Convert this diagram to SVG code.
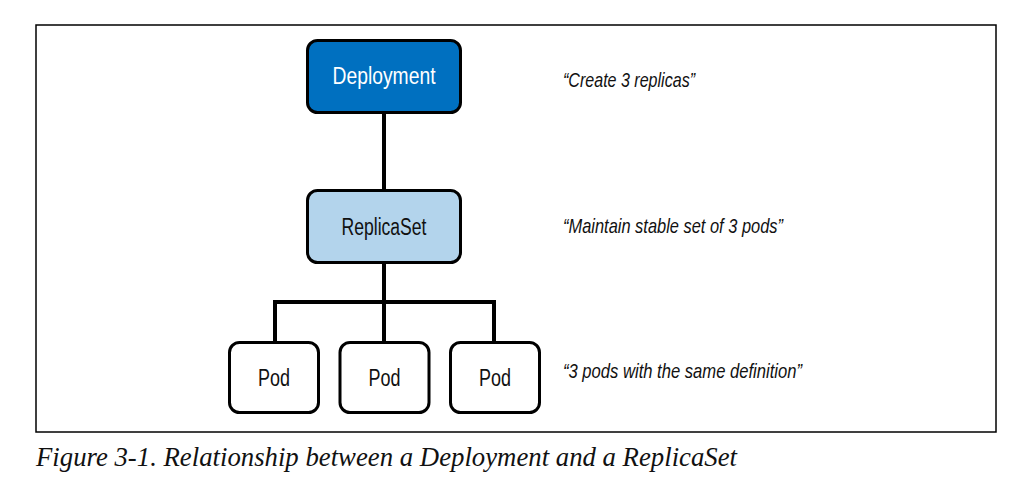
<svg xmlns="http://www.w3.org/2000/svg" width="1009" height="489" viewBox="0 0 1009 489">
<style>
.box{stroke:#000;stroke-width:3}
.lbl{font-family:"Liberation Sans",Arial,sans-serif;font-size:23px;text-anchor:middle}
.note{font-family:"Liberation Sans",Arial,sans-serif;font-size:21px;font-style:italic;fill:#111}
.conn{stroke:#000;stroke-width:4;fill:none}
</style>
<rect x="0" y="0" width="1009" height="489" fill="#fff"/>
<rect x="36" y="25" width="960" height="407" fill="none" stroke="#000" stroke-width="1.5"/>
<g id="connectors">
<line class="conn" x1="384" y1="113" x2="384" y2="190"/>
<line class="conn" x1="384" y1="263" x2="384" y2="342"/>
<polyline class="conn" points="275,342 275,302 494,302 494,342"/>
</g>
<g id="deployment">
<rect class="box" x="307.5" y="40.5" width="153" height="72" rx="10" fill="#0070c0"/>
<text class="lbl" x="384" y="84" fill="#fff" textLength="103" lengthAdjust="spacingAndGlyphs">Deployment</text>
</g>
<g id="replicaset">
<rect class="box" x="307.5" y="190.5" width="153" height="72" rx="10" fill="#b3d4ec"/>
<text class="lbl" x="384" y="235" fill="#111" textLength="85" lengthAdjust="spacingAndGlyphs">ReplicaSet</text>
</g>
<g id="pod1">
<rect class="box" x="229.5" y="342.5" width="89" height="70" rx="10" fill="#fff"/>
<text class="lbl" x="274" y="386" fill="#111" textLength="32" lengthAdjust="spacingAndGlyphs">Pod</text>
</g>
<g id="pod2">
<rect class="box" x="340" y="342.5" width="89" height="70" rx="10" fill="#fff"/>
<text class="lbl" x="384.5" y="386" fill="#111" textLength="32" lengthAdjust="spacingAndGlyphs">Pod</text>
</g>
<g id="pod3">
<rect class="box" x="450.5" y="342.5" width="89" height="70" rx="10" fill="#fff"/>
<text class="lbl" x="495" y="386" fill="#111" textLength="32" lengthAdjust="spacingAndGlyphs">Pod</text>
</g>
<g id="notes">
<text class="note" x="563" y="87" textLength="132" lengthAdjust="spacingAndGlyphs">“Create 3 replicas”</text>
<text class="note" x="563" y="233" textLength="220" lengthAdjust="spacingAndGlyphs">“Maintain stable set of 3 pods”</text>
<text class="note" x="563" y="378" textLength="239" lengthAdjust="spacingAndGlyphs">“3 pods with the same definition”</text>
</g>
<text x="36" y="466" font-family="'Liberation Serif','Times New Roman',serif" font-size="27" font-style="italic" fill="#111" textLength="701" lengthAdjust="spacingAndGlyphs">Figure 3-1. Relationship between a Deployment and a ReplicaSet</text>
</svg>
